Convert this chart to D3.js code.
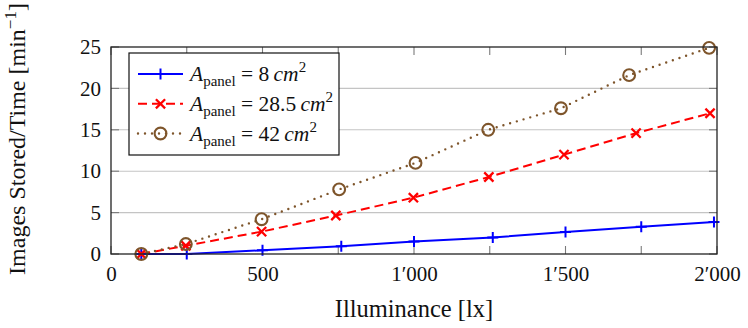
<!DOCTYPE html>
<html>
<head>
<meta charset="utf-8">
<script src="https://cdn.jsdelivr.net/npm/d3@7"></script>
<style>
  body { margin: 0; background: #fff; }
  svg { display: block; }
  svg text, svg tspan { font-family: "Liberation Serif", "DejaVu Serif", serif !important; fill: #111; }
</style>
</head>
<body>
<svg id="chart" width="748" height="328"></svg>
<script>
// Axis ticks
const xTicks = [0, 500, 1000, 1500, 2000];
const xTickLabels = ["0", "500", "1\u2032000", "1\u2032500", "2\u2032000"];
const xMinorTicks = [250, 750, 1250, 1750];
const yTicks = [0, 5, 10, 15, 20, 25];
const yGrid = [5, 10, 15, 20];

// Panel areas (cm^2) for the three series
const panelAreas = ["8", "28.5", "42"];

// Measured illuminance [lx] and storage rate [1/min] per panel
const lux8   = [100, 250, 500, 760, 1000, 1260, 1500, 1750, 1990];
const rate8  = [0, 0, 0.45, 0.95, 1.5, 2.0, 2.65, 3.3, 3.85];
const lux28  = [100, 247, 497, 742, 998, 1247, 1495, 1733, 1977];
const rate28 = [0, 1.0, 2.7, 4.65, 6.8, 9.3, 12.0, 14.6, 17.0];
const lux42  = [100, 247, 497, 753, 1005, 1245, 1485, 1710, 1974];
const rate42 = [0, 1.2, 4.2, 7.8, 11.0, 15.0, 17.6, 21.6, 24.9];

const series = [
  { area: panelAreas[0], xs: lux8,  ys: rate8,  color: "#0000ff", dash: null,  cap: "butt",  marker: "plus" },
  { area: panelAreas[1], xs: lux28, ys: rate28, color: "#ff0000", dash: "9,5", cap: "butt",  marker: "cross" },
  { area: panelAreas[2], xs: lux42, ys: rate42, color: "#7e552b", dash: "0,7", cap: "round", marker: "circle" }
];

const SERIF = "'Liberation Serif', 'DejaVu Serif', serif";
const margin = { left: 111, right: 31, top: 47, bottom: 74 };
const W = 748, H = 328;
const svg = d3.select("#chart");

const x = d3.scaleLinear().domain([0, 2000]).range([margin.left, W - margin.right]);
const y = d3.scaleLinear().domain([0, 25]).range([H - margin.bottom, margin.top]);

// Horizontal grid
svg.append("g")
  .selectAll("line").data(yGrid).join("line")
  .attr("x1", x(0)).attr("x2", x(2000))
  .attr("y1", d => y(d)).attr("y2", d => y(d))
  .attr("stroke", "#c4c4c4").attr("stroke-width", 1.1);

// Inward tick marks on all four sides
const tickLen = 8;
const tickColor = "#7a7a7a";
const allX = xTicks.concat(xMinorTicks);
const tg = svg.append("g").attr("stroke", tickColor).attr("stroke-width", 1.1);
tg.selectAll(".xb").data(allX).join("line")
  .attr("x1", d => x(d)).attr("x2", d => x(d))
  .attr("y1", y(0)).attr("y2", y(0) - tickLen);
tg.selectAll(".xt").data(allX).join("line")
  .attr("x1", d => x(d)).attr("x2", d => x(d))
  .attr("y1", y(25)).attr("y2", y(25) + tickLen);
tg.selectAll(".yl").data(yTicks).join("line")
  .attr("x1", x(0)).attr("x2", x(0) + tickLen)
  .attr("y1", d => y(d)).attr("y2", d => y(d));
tg.selectAll(".yr").data(yTicks).join("line")
  .attr("x1", x(2000)).attr("x2", x(2000) - tickLen)
  .attr("y1", d => y(d)).attr("y2", d => y(d));

// Tick labels via d3 axes (tick lines and domain hidden)
const xAxis = d3.axisBottom(x).tickValues(xTicks)
  .tickFormat((d, i) => xTickLabels[i]).tickSize(0).tickPadding(12);
const gx = svg.append("g").attr("transform", `translate(0,${y(0)})`).call(xAxis)
  .attr("font-family", SERIF).attr("font-size", 21);
gx.select(".domain").remove();
gx.selectAll("text").attr("fill", "#111");

const yAxis = d3.axisLeft(y).tickValues(yTicks).tickSize(0).tickPadding(10);
const gy = svg.append("g").attr("transform", `translate(${x(0)},0)`).call(yAxis)
  .attr("font-family", SERIF).attr("font-size", 21);
gy.select(".domain").remove();
gy.selectAll("text").attr("fill", "#111");

// Series lines
const line = d3.line().x(d => x(d[0])).y(d => y(d[1]));
series.forEach(s => {
  const pts = s.xs.map((v, i) => [v, s.ys[i]]);
  svg.append("path").datum(pts)
    .attr("d", line)
    .attr("fill", "none")
    .attr("stroke", s.color)
    .attr("stroke-width", s.marker === "circle" ? 2.4 : 2)
    .attr("stroke-linecap", s.cap)
    .attr("stroke-dasharray", s.dash);
});

// Markers
function drawMarker(g, kind, cx, cy, color) {
  if (kind === "plus") {
    g.append("path")
      .attr("d", `M${cx - 5.5},${cy}H${cx + 5.5}M${cx},${cy - 5.5}V${cy + 5.5}`)
      .attr("stroke", color).attr("stroke-width", 2).attr("fill", "none");
  } else if (kind === "cross") {
    const r = 4.6;
    g.append("path")
      .attr("d", `M${cx - r},${cy - r}L${cx + r},${cy + r}M${cx - r},${cy + r}L${cx + r},${cy - r}`)
      .attr("stroke", color).attr("stroke-width", 2.3).attr("fill", "none");
  } else {
    g.append("circle").attr("cx", cx).attr("cy", cy).attr("r", 5.9)
      .attr("stroke", color).attr("stroke-width", 2.1).attr("fill", "none");
  }
}
series.forEach(s => {
  const g = svg.append("g");
  s.xs.forEach((v, i) => drawMarker(g, s.marker, x(v), y(s.ys[i]), s.color));
});

// Plot frame
svg.append("rect")
  .attr("x", x(0)).attr("y", y(25))
  .attr("width", x(2000) - x(0)).attr("height", y(0) - y(25))
  .attr("fill", "none").attr("stroke", "#222").attr("stroke-width", 1.3);

// Legend
const lg = svg.append("g").attr("font-family", SERIF);
lg.append("rect").attr("x", 129).attr("y", 53).attr("width", 210).attr("height", 102)
  .attr("fill", "#fff").attr("stroke", "#111").attr("stroke-width", 1.2);
const rowY = [74, 103.8, 133.5];
series.forEach((s, i) => {
  const ry = rowY[i];
  lg.append("line").attr("x1", 138).attr("x2", 183).attr("y1", ry).attr("y2", ry)
    .attr("stroke", s.color)
    .attr("stroke-width", s.marker === "circle" ? 2.4 : 2)
    .attr("stroke-linecap", s.cap)
    .attr("stroke-dasharray", s.dash);
  drawMarker(lg, s.marker, 160.5, ry, s.color);
  const t = lg.append("text").attr("x", 190).attr("y", ry + 7)
    .attr("font-family", SERIF).attr("font-size", 21.5);
  t.append("tspan").attr("font-style", "italic").text("A");
  t.append("tspan").attr("dy", 5).attr("font-size", 15).text("panel");
  t.append("tspan").attr("dy", -5).text(" = " + s.area + "\u2009");
  t.append("tspan").attr("font-style", "italic").text("cm");
  t.append("tspan").attr("dy", -9).attr("font-size", 15).text("2");
});

// Axis titles
svg.append("text")
  .attr("x", x(1000)).attr("y", 317)
  .attr("text-anchor", "middle")
  .attr("font-family", SERIF).attr("font-size", 24.5)
  .text("Illuminance [lx]");

const yl = svg.append("text")
  .attr("transform", "translate(25,139) rotate(-90)")
  .attr("text-anchor", "middle")
  .attr("font-family", SERIF).attr("font-size", 24);
yl.append("tspan").text("Images Stored/Time [min");
yl.append("tspan").attr("dy", -9).attr("font-size", 17).text("\u22121");
yl.append("tspan").attr("dy", 9).text("]");
</script>
</body>
</html>
